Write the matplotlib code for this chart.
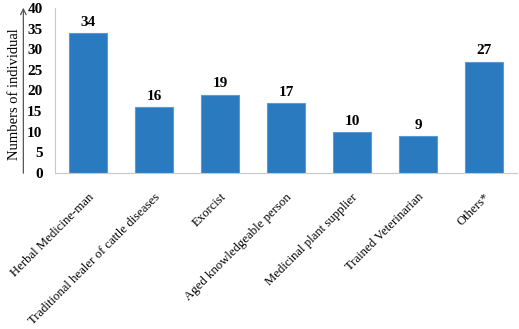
import matplotlib
matplotlib.use("Agg")
import matplotlib.pyplot as plt

categories = ["Herbal Medicine-man", "Traditional healer of cattle diseases", "Exorcist",
              "Aged knowledgeable person", "Medicinal plant supplier",
              "Trained Veterinarian", "Others*"]
counts = [34, 16, 19, 17, 10, 9, 27]
yticks = [0, 5, 10, 15, 20, 25, 30, 35, 40]

plt.rcParams['font.family'] = ['Liberation Serif', 'DejaVu Serif']

fig = plt.figure(figsize=(5.19, 3.29), dpi=100)
ax = fig.add_axes([0.106, 0.474, 0.890, 0.502])

x = range(len(categories))
ax.bar(x, counts, width=0.58, color='#2a7abf', edgecolor='#5a9bd6', linewidth=0.8)
for xi, v in zip(x, counts):
    ax.text(xi, v + 1, str(v), ha='center', va='bottom', fontsize=11, fontweight='bold')

ax.set_xlim(-0.5, len(categories) - 0.5)
ax.set_ylim(0, 40)
ax.set_yticks(yticks)
ax.set_yticklabels([str(t) for t in yticks], fontsize=11, fontweight='bold')
ax.set_xticks(list(x))
ax.set_xticklabels(categories, rotation=45, ha='right', rotation_mode='anchor', fontsize=9.2)
ax.tick_params(length=0)
ax.tick_params(axis='x', pad=13)
ax.tick_params(axis='y', pad=9)

for s in ['top', 'right']:
    ax.spines[s].set_visible(False)
ax.spines['left'].set_color('#c8c8c8')
ax.spines['bottom'].set_color('#c8c8c8')

# y label with arrow
fig.text(0.028, 0.714, "Numbers of individual", rotation=90, ha='center', va='center', fontsize=10.5)
ax.annotate('', xy=(0.045, 0.985), xytext=(0.045, 0.465), xycoords='figure fraction',
            arrowprops=dict(arrowstyle='->', color='#555555', lw=0.9))

fig.savefig('out.png', dpi=100)
